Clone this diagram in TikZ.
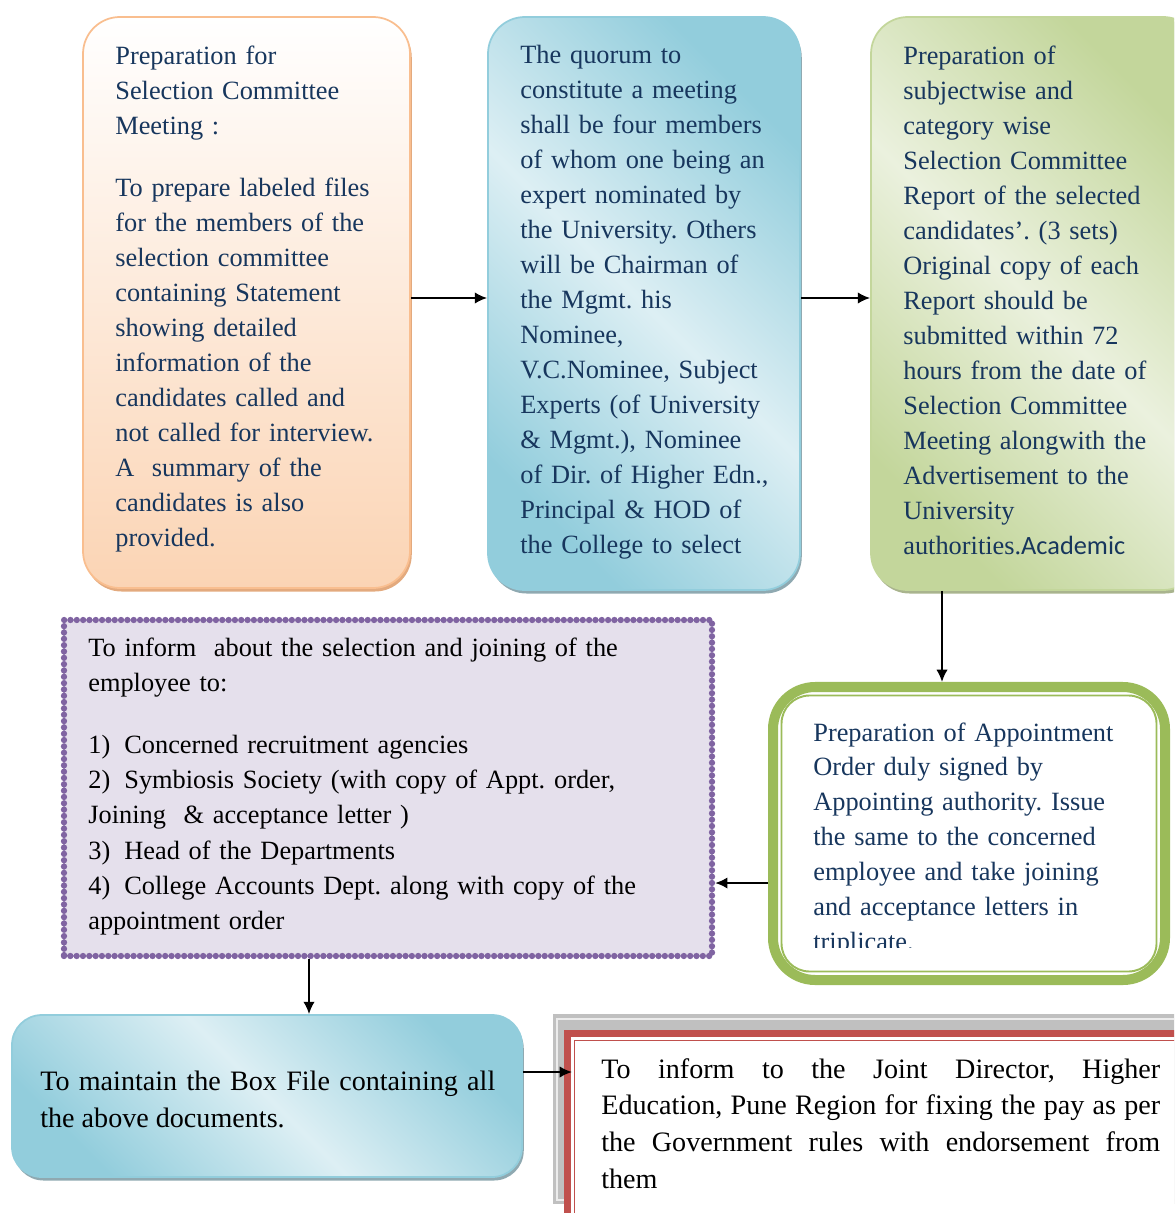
\documentclass[tikz,border=0pt]{standalone}
\usepackage{fontspec}
\setmainfont{Liberation Serif}
\newfontfamily\calfont{Carlito}
\usetikzlibrary{arrows.meta,fit,shadows}
\frenchspacing

\definecolor{navy}{HTML}{17365D}
\definecolor{peach}{HTML}{FBD4B4}
\definecolor{peachline}{HTML}{F9BE8F}
\definecolor{peachshadow}{HTML}{E3AA7E}
\definecolor{aqua}{HTML}{92CDDC}
\definecolor{aqualight}{HTML}{DDEFF4}
\definecolor{aquashadow}{HTML}{8FA9B1}
\definecolor{olive}{HTML}{C3D69B}
\definecolor{olivelight}{HTML}{EBF1DE}
\definecolor{oliveshadow}{HTML}{A9B48E}
\definecolor{leaf}{HTML}{9BBB59}
\definecolor{lilac}{HTML}{8064A2}
\definecolor{lilacfill}{HTML}{E5E0EC}
\definecolor{brick}{HTML}{C0504D}
\definecolor{frame}{HTML}{C0C0C0}

\begin{document}
\begin{tikzpicture}[x=0.02cm, y=-0.02cm,
    card/.style={draw, line width=1pt, rounded corners=21pt, inner sep=0pt},
    boxshadow/.style={drop shadow={shadow xshift=1pt, shadow yshift=-2pt, fill=#1, opacity=1}},
    diag/.style={left color=#1, right color=#1, middle color=#1light, shading angle=135},
    txt/.style={anchor=base west, inner sep=0pt, align=left, text width=#1, text=navy,
      font=\fontsize{15}{19.9}\selectfont},
    arr/.style={line width=1.1pt, -{Latex[length=7pt,width=6.5pt]}}]
    \useasboundingbox (0,0) rectangle (1174,1213);
    \clip (0,0) rectangle (1174,1213);

    \node[card, draw=peachline, top color=white, bottom color=peach, boxshadow=peachshadow,
      fit={(83,17) (410,588)}] (prep) {};
    \node[card, draw=aqua, diag=aqua, boxshadow=aquashadow,
      fit={(488,17) (800,590)}] (quorum) {};
    \node[card, draw=olive, diag=olive, boxshadow=oliveshadow,
      fit={(871,17) (1200,590)}] (report) {};

    \node[card, draw=leaf, line width=5.7pt, rounded corners=24pt, fill=white,
      fit={(773,687) (1165,980)}] (appt) {};
    \draw[leaf, line width=1.1pt, rounded corners=16pt]
      ([shift={(13.5,13.5)}]appt.north west) rectangle ([shift={(-13.5,-13.5)}]appt.south east);

    \node[draw=lilac, fill=lilacfill, line width=3.6pt, line cap=round,
      dash pattern=on 0pt off 3.6pt, inner sep=0pt, fit={(64,620) (712,956)}] (inform) {};

    \node[card, rounded corners=17pt, draw=aqua, diag=aqua, boxshadow=aquashadow,
      fit={(12,1015) (522,1177)}] (keep) {};

    \fill[frame] (553,1014) rectangle (1190,1204);
    \draw[white!70!frame, line width=0.6pt] (557,1019) rectangle (1190,1200);
    \node[draw=brick, line width=4pt, fill=white, inner sep=0pt,
      fit={(567.5,1033.5) (1190,1225)}] (joint) {};
    \draw[brick, line width=1.1pt]
      ([shift={(10.5,10.5)}]joint.north west) rectangle ([shift={(-10.5,-10.5)}]joint.south east);

    \coordinate (rowA) at (0,298);
    \coordinate (colA) at (942,0);
    \coordinate (rowB) at (0,883);
    \coordinate (colB) at (309,0);
    \coordinate (jointin) at (572,1072);

    \draw[arr] (prep.east |- rowA) -- (quorum.west |- rowA);
    \draw[arr] (quorum.east |- rowA) -- (report.west |- rowA);
    \draw[arr] (report.south -| colA) -- (appt.north -| colA);
    \draw[arr] (appt.west |- rowB) -- (inform.east |- rowB);
    \draw[arr] (inform.south -| colB) -- (keep.north -| colB);
    \draw[arr] (keep.east |- jointin) -- (jointin);

    \node[txt=6cm] (preptext) at (115,65) {Preparation for\\Selection Committee\\Meeting :\\[15.4pt]
      To prepare labeled files\\for the members of the\\selection committee\\containing Statement\\
      showing detailed\\information of the\\candidates called and\\not called for interview.\\
      A~ summary of the\\candidates is also\\provided.};
    \node[txt=5.8cm] (quorumtext) at (520,64) {The quorum to\\constitute a meeting\\shall be four members\\
      of whom one being an\\expert nominated by\\the University. Others\\will be Chairman of\\
      the Mgmt. his\\Nominee,\\V.C.Nominee, Subject\\Experts (of University\\\& Mgmt.), Nominee\\
      of Dir. of Higher Edn.,\\Principal \& HOD of\\the College to select};
    \node[txt=5.8cm] (reporttext) at (903,65) {Preparation of\\subjectwise and\\category wise\\
      Selection Committee\\Report of the selected\\candidates’. (3 sets)\\Original copy of each\\
      Report should be\\submitted within 72\\hours from the date of\\Selection Committee\\
      Meeting alongwith the\\Advertisement to the\\University\\authorities.{\calfont Academic}};

    \begin{scope}
      \clip (790,700) rectangle (1160,947);
      \node[txt=6.8cm] (appttext) at (813,741) {Preparation of Appointment\\Order duly signed by\\
        Appointing authority. Issue\\the same to the concerned\\employee and take joining\\
        and acceptance letters in\\triplicate.};
    \end{scope}

    \node[txt=12cm, text=black, font=\fontsize{15}{20.1}\selectfont] (informtext) at (88,656)
      {To inform~ about the selection and joining of the\\employee to:\\[15.2pt]
      1)\hspace{8pt}Concerned recruitment agencies\\
      2)\hspace{8pt}Symbiosis Society (with copy of Appt. order,\\
      Joining~ \& acceptance letter )\\
      3)\hspace{8pt}Head of the Departments\\
      4)\hspace{8pt}College Accounts Dept. along with copy of the\\
      appointment order};

    \node[txt=9.1cm, align=justify, text=black, font=\fontsize{16}{21.6}\selectfont] (keeptext)
      at (40,1090) {To maintain the Box File containing all\linebreak the above documents.};
    \node[txt=11.18cm, align=justify, text=black, font=\fontsize{16}{21}\selectfont] (jointtext)
      at (601,1078) {To inform to the Joint Director, Higher\linebreak
      Education, Pune Region for fixing the pay as per\linebreak
      the Government rules with endorsement from\linebreak them};
\end{tikzpicture}
\end{document}
